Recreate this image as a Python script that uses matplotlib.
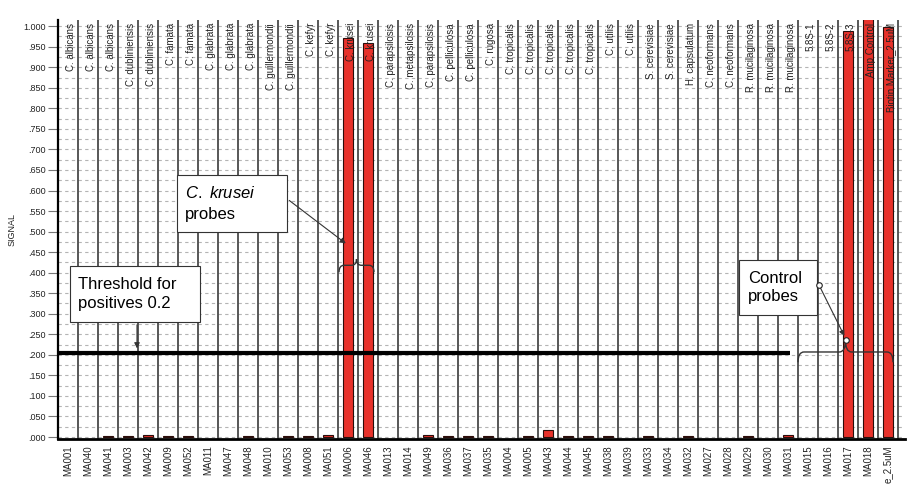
"""
Probe signal chart for Candida species array (C. krusei sample).
"""
import numpy as np
import matplotlib
matplotlib.use('Agg')
import matplotlib.pyplot as plt
from matplotlib.path import Path
from matplotlib.patches import PathPatch, Rectangle
from matplotlib.ticker import FuncFormatter, MultipleLocator

plt.rcParams['font.family'] = ['Liberation Sans', 'DejaVu Sans']
plt.rcParams['mathtext.fontset'] = 'custom'
plt.rcParams['mathtext.it'] = 'Liberation Sans:italic'
plt.rcParams['mathtext.rm'] = 'Liberation Sans'

probe_ids = ['MA001', 'MA040', 'MA041', 'MA003', 'MA042', 'MA009', 'MA052',
             'MA011', 'MA047', 'MA048', 'MA010', 'MA053', 'MA008', 'MA051',
             'MA006', 'MA046', 'MA013', 'MA014', 'MA049', 'MA036', 'MA037',
             'MA035', 'MA004', 'MA005', 'MA043', 'MA044', 'MA045', 'MA038',
             'MA039', 'MA033', 'MA034', 'MA032', 'MA027', 'MA028', 'MA029',
             'MA030', 'MA031', 'MA015', 'MA016', 'MA017', 'MA018', 'e_2.5uM']

species = ['C. albicans', 'C. albicans', 'C. albicans', 'C. dubliniensis',
           'C. dubliniensis', 'C. famata', 'C. famata', 'C. glabrata',
           'C. glabrata', 'C. glabrata', 'C. guillermondii', 'C. guillermondii',
           'C. kefyr', 'C. kefyr', 'C. krusei', 'C. krusei', 'C. parapsilosis',
           'C. metapsilosis', 'C. parapsilosis', 'C. pelliculosa',
           'C. pelliculosa', 'C. rugosa', 'C. tropicalis', 'C. tropicalis',
           'C. tropicalis', 'C. tropicalis', 'C. tropicalis', 'C. utilis',
           'C. utilis', 'S. cerevisiae', 'S. cerevisiae', 'H. capsulatum',
           'C. neoformans', 'C. neoformans', 'R. mucilaginosa',
           'R. mucilaginosa', 'R. mucilaginosa', '5.8S-1', '5.8S-2', '5.8S-3',
           'Amp Control', 'Biotin Marker_2.5uM']

signal = [0.000, 0.000, 0.003, 0.003, 0.005, 0.002, 0.002,
          0.000, 0.000, 0.002, 0.000, 0.003, 0.003, 0.005,
          0.972, 0.959, 0.000, 0.000, 0.005, 0.003, 0.003,
          0.002, 0.000, 0.003, 0.017, 0.003, 0.003, 0.003,
          0.000, 0.002, 0.000, 0.002, 0.000, 0.000, 0.002,
          0.000, 0.004, 0.000, 0.000, 0.988, 1.050, 0.998]

threshold = 0.205

RED = '#e8322b'
EDGE = '#2a0d0a'


def brace(ax, x0, x1, y, drop, rise, d):
    """Horizontal curly brace with ends curling down and tip pointing up."""
    xm = (x0 + x1) / 2
    verts = [(x0, y - drop), (x0, y), (x0 + d, y),
             (xm - d, y),
             (xm, y), (xm, y + rise),
             (xm, y), (xm + d, y),
             (x1 - d, y),
             (x1, y), (x1, y - drop)]
    codes = [Path.MOVETO, Path.CURVE3, Path.CURVE3,
             Path.LINETO,
             Path.CURVE3, Path.CURVE3,
             Path.CURVE3, Path.CURVE3,
             Path.LINETO,
             Path.CURVE3, Path.CURVE3]
    ax.add_patch(PathPatch(Path(verts, codes), fill=False, ec='#333333',
                           lw=1.0, zorder=6, clip_on=False))


fig = plt.figure(figsize=(9.09, 4.88), dpi=100)
ax = fig.add_axes([58 / 909, 0.0994, 847 / 909, 0.8596])

x = np.arange(1, len(probe_ids) + 1)
ax.set_xlim(0.5, 42.85)
ax.set_ylim(-0.006, 1.015)

# Dashed horizontal grid every 0.025
for g in np.arange(0, 1.001, 0.025):
    ax.axhline(g, color='#b4b4b4', lw=0.8, dashes=(3, 3), zorder=1)

# Column separators
ax.vlines(np.arange(1.5, 43, 1), -0.006, 1.015, color='#4a4a4a', lw=1.3,
          zorder=2)

# No outline for empty probes
edge_w = [0.8 if v > 0 else 0 for v in signal]
ax.bar(x, signal, width=0.5, color=RED, edgecolor=EDGE, linewidth=edge_w,
       zorder=3)

# Species labels at top of each column
for xi, name in zip(x, species):
    ax.text(xi + 0.15, 1.008, name, rotation=90, ha='center', va='top',
            fontsize=7, color='#222222', zorder=5)

ax.set_xticks(x)
ax.set_xticklabels(probe_ids, rotation=90, fontsize=7, color='#222222')
ax.tick_params(axis='x', length=0, pad=4)

ax.yaxis.set_major_locator(MultipleLocator(0.05))
ax.yaxis.set_major_formatter(
    FuncFormatter(lambda v, p: f'{v:.3f}'.lstrip('0') if v < 0.9995 else '1.000'))
ax.tick_params(axis='y', length=7, width=0.8, color='#777777', labelsize=6.5,
               labelcolor='#222222', pad=2)

for s in ['top', 'right']:
    ax.spines[s].set_visible(False)
ax.spines['left'].set_linewidth(1.6)
ax.spines['bottom'].set_linewidth(2.0)

fig.text(12 / 909, 1 - 230 / 488, 'SIGNAL', rotation=90, ha='center',
         va='center', fontsize=6.5, color='#222222')

# Threshold line and its note
ax.plot([0.5, 37.1], [threshold, threshold], color='black', lw=3, zorder=6,
        solid_capstyle='butt')
ax.add_patch(Rectangle((1.1, 0.280), 6.5, 0.136, fc='white', ec='#333333',
                       lw=0.8, zorder=7))
ax.text(1.5, 0.348, 'Threshold for\npositives 0.2', ha='left', va='center',
        fontsize=12, linespacing=1.3, zorder=8)
ax.annotate('', xy=(4.45, threshold + 0.004), xytext=(4.45, 0.280),
            arrowprops=dict(arrowstyle='-|>', color='#333333', lw=0.8,
                            mutation_scale=8), zorder=8)

# C. krusei probes note
ax.add_patch(Rectangle((6.45, 0.499), 5.5, 0.138, fc='white', ec='#333333',
                       lw=0.8, zorder=7))
ax.text(6.85, 0.568, '$C.\\ krusei$\nprobes', ha='left', va='center',
        fontsize=12, linespacing=1.5, zorder=8)
ax.annotate('', xy=(15.0, 0.467), xytext=(11.95, 0.580),
            arrowprops=dict(arrowstyle='-|>', color='#333333', lw=0.8,
                            mutation_scale=8), zorder=8)
brace(ax, 14.55, 16.3, 0.418, 0.017, 0.015, 0.25)

# Control probes note
ax.add_patch(Rectangle((34.55, 0.297), 3.9, 0.134, fc='white', ec='#333333',
                       lw=0.8, zorder=7))
ax.text(35.0, 0.364, 'Control\nprobes', ha='left', va='center',
        fontsize=12, linespacing=1.3, zorder=8)
ax.annotate('', xy=(39.88, 0.240), xytext=(38.55, 0.370),
            arrowprops=dict(arrowstyle='-|>', color='#333333', lw=0.8,
                            mutation_scale=8), zorder=8)
ax.plot([38.55, 39.9], [0.370, 0.237], ls='none', marker='o', ms=4,
        mfc='white', mec='#222222', mew=0.8, zorder=9)
brace(ax, 37.5, 42.25, 0.207, 0.025, 0.029, 0.3)

fig.savefig('out.png', dpi=100)
